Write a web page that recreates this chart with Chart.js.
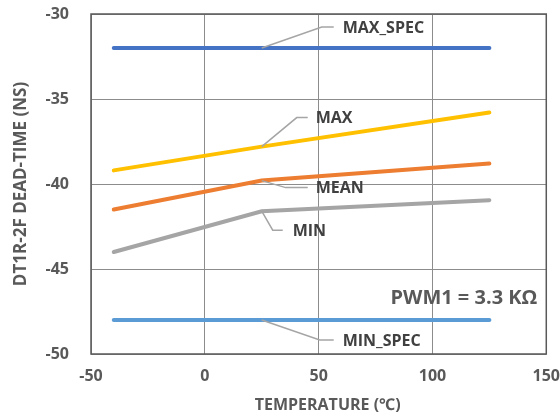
<!DOCTYPE html>
<html>
<head>
<meta charset="utf-8">
<script src="https://cdn.jsdelivr.net/npm/chart.js@4.4.1/dist/chart.umd.min.js"></script>
<style>
html,body{margin:0;padding:0;background:#fff;}
#wrap{width:560px;height:419px;position:relative;}
</style>
</head>
<body>
<div id="wrap"><canvas id="c" width="560" height="419"></canvas></div>
<script>
const temperatures = [-40, 25, 125];
const maxSpec = [-32, -32, -32];
const maxVals = [-39.2, -37.8, -35.8];
const meanVals = [-41.5, -39.8, -38.8];
const minVals = [-44.0, -41.6, -40.95];
const minSpec = [-48, -48, -48];
const seriesNames = ['MAX_SPEC', 'MAX', 'MEAN', 'MIN', 'MIN_SPEC'];
const seriesColors = ['#4472C4', '#FFC000', '#ED7D31', '#A5A5A5', '#5B9BD5'];
const seriesValues = [maxSpec, maxVals, meanVals, minVals, minSpec];
const xTicks = [-50, 0, 50, 100, 150];
const yTicks = [-50, -45, -40, -35, -30];
const noteText = 'PWM1 = 3.3 KΩ';
const xTitle = 'TEMPERATURE (℃)';
const yTitle = 'DT1R-2F DEAD-TIME (NS)';
const labelAnchorX = 25;
// leader offsets (pixels) relative to anchor point on each series at x = 25
const leaders = [
  {elbow:[60,-21], end:72, text:81},
  {elbow:[35,-29], end:46, text:54},
  {elbow:[24,7], end:46, text:54},
  {elbow:[11,19], end:21, text:31},
  {elbow:[58,20], end:72, text:81}
];

const FONT = '"Open Sans", "Noto Sans", sans-serif';

const datasets = seriesNames.map((n, i) => ({
  label: n,
  data: temperatures.map((t, j) => ({x: t, y: seriesValues[i][j]})),
  borderColor: seriesColors[i],
  backgroundColor: seriesColors[i],
  borderWidth: 4,
  pointRadius: 0,
  tension: 0,
  borderCapStyle: 'round',
  fill: false
}));

const annot = {
  id: 'annot',
  afterDraw(chart) {
    const ctx = chart.ctx;
    const xs = chart.scales.x, ys = chart.scales.y;
    const a = chart.chartArea;
    ctx.save();
    ctx.strokeStyle = '#595959';
    ctx.lineWidth = 1.5;
    ctx.strokeRect(a.left, a.top, a.right - a.left, a.bottom - a.top);
    const idx = temperatures.indexOf(labelAnchorX);
    seriesNames.forEach((n, i) => {
      const px = xs.getPixelForValue(labelAnchorX);
      const py = ys.getPixelForValue(seriesValues[i][idx]);
      const L = leaders[i];
      ctx.strokeStyle = '#A5A5A5';
      ctx.lineWidth = 1.5;
      ctx.beginPath();
      ctx.moveTo(px, py);
      ctx.lineTo(px + L.elbow[0], py + L.elbow[1]);
      ctx.lineTo(px + L.end, py + L.elbow[1]);
      ctx.stroke();
      ctx.fillStyle = '#404040';
      ctx.font = 'bold 16px ' + FONT;
      ctx.textAlign = 'left';
      ctx.textBaseline = 'middle';
      ctx.fillText(n, px + L.text, py + L.elbow[1] + 1);
    });
    ctx.fillStyle = '#595959';
    ctx.font = 'bold 20px ' + FONT;
    ctx.textAlign = 'right';
    ctx.textBaseline = 'middle';
    ctx.fillText(noteText, a.right - 9, ys.getPixelForValue(-46.75));
    // axis titles
    ctx.font = 'bold 16px ' + FONT;
    ctx.textAlign = 'center';
    ctx.fillText(xTitle, (a.left + a.right) / 2 + 9, 405);
    ctx.font = 'bold 17px ' + FONT;
    ctx.translate(21, (a.top + a.bottom) / 2);
    ctx.rotate(-Math.PI / 2);
    ctx.fillText(yTitle, 0, 0);
    ctx.restore();
  }
};

new Chart(document.getElementById('c'), {
  type: 'line',
  data: { datasets },
  options: {
    responsive: false,
    animation: false,
    layout: { padding: { left: 0, right: 5, top: 14, bottom: 0 } },
    plugins: { legend: { display: false }, tooltip: { enabled: false } },
    scales: {
      x: {
        type: 'linear',
        min: -50, max: 150,
        afterBuildTicks(s) { s.ticks = xTicks.map(v => ({value: v})); },
        afterFit(s) { s.height = 65; },
        grid: { color: '#8C8C8C', lineWidth: 1, drawTicks: true, tickLength: 13, tickColor: 'rgba(0,0,0,0)' },
        border: { display: false },
        ticks: { padding: 0, color: '#595959', font: { family: FONT, size: 16, weight: 'bold' } },
        title: { display: false }
      },
      y: {
        type: 'linear',
        min: -50, max: -30,
        afterBuildTicks(s) { s.ticks = yTicks.map(v => ({value: v})); },
        afterFit(s) { s.width = 91; },
        grid: { color: '#8C8C8C', lineWidth: 1, drawTicks: true, tickLength: 22, tickColor: 'rgba(0,0,0,0)' },
        border: { display: false },
        ticks: { padding: 0, color: '#595959', font: { family: FONT, size: 16, weight: 'bold' } },
        title: { display: false }
      }
    }
  },
  plugins: [annot]
});
</script>
</body>
</html>
